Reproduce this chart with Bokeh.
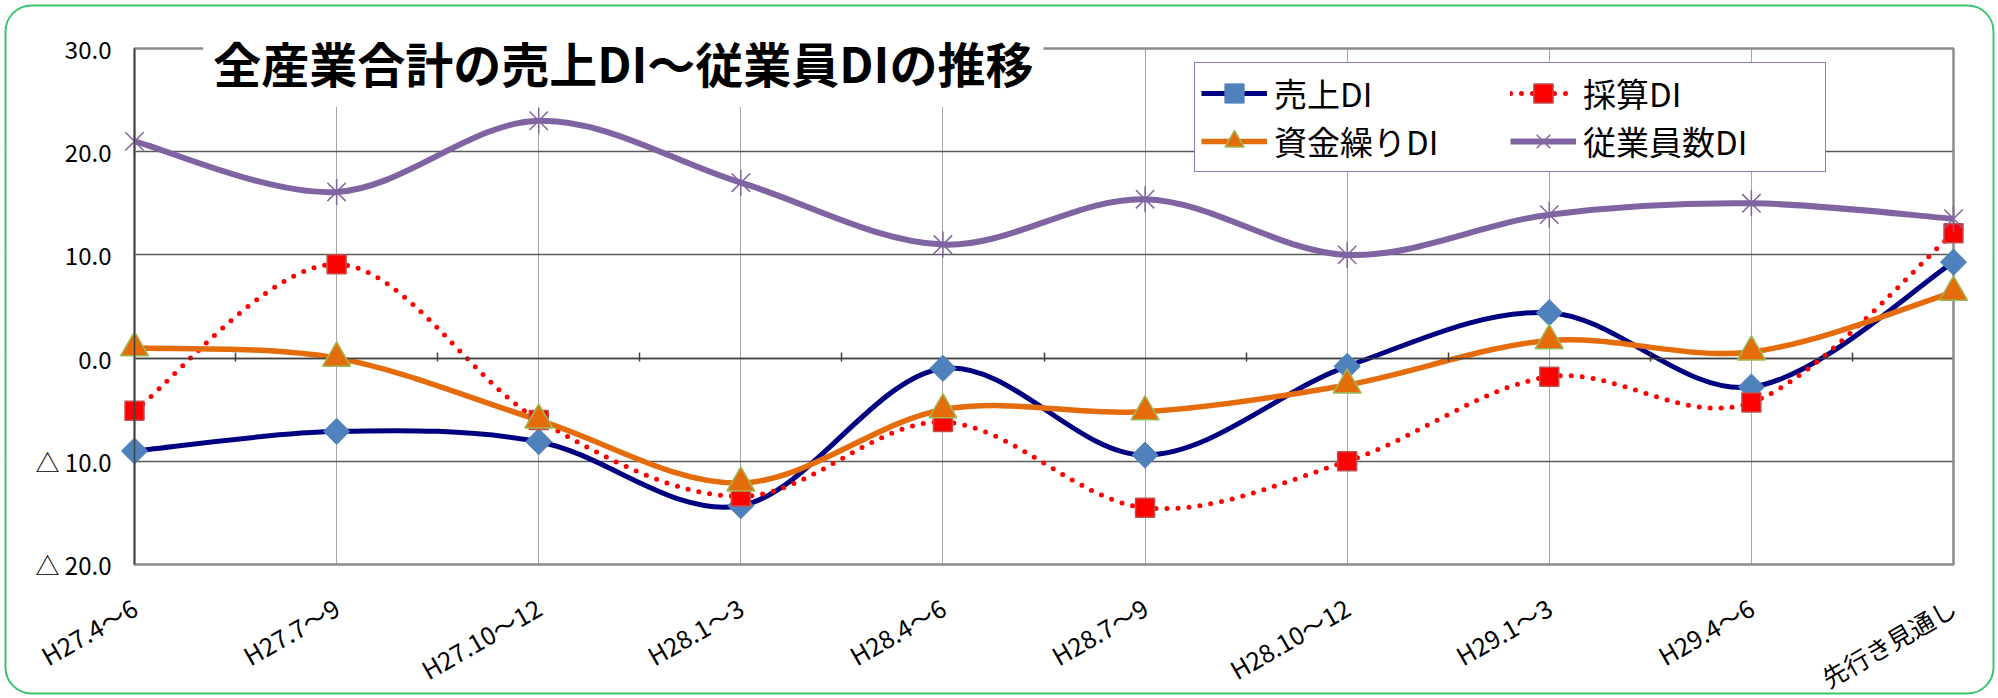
import math
import numpy as np
from bokeh.plotting import figure
from bokeh.models import (Range1d, FixedTicker, LinearAxis, Grid, Legend, LegendItem,
                          Label, ColumnDataSource, BoxAnnotation)
from bokeh.embed import file_html
from bokeh.resources import INLINE

# ---------------- data ----------------
categories = ["H27.4～6", "H27.7～9", "H27.10～12", "H28.1～3", "H28.4～6",
              "H28.7～9", "H28.10～12", "H29.1～3", "H29.4～6", "先行き見通し"]
uriage_di = [-9.0, -7.1, -8.1, -14.3, -1.0, -9.4, -0.8, 4.4, -2.8, 9.3]
saisan_di = [-5.1, 9.1, -6.0, -13.4, -6.2, -14.5, -10.0, -1.8, -4.3, 12.1]
shikinguri_di = [1.0, 0.0, -6.0, -12.1, -5.0, -5.2, -2.6, 1.7, 0.6, 6.4]
jugyoinsu_di = [21.0, 16.1, 23.0, 17.0, 11.0, 15.4, 10.0, 13.9, 15.0, 13.5]
y_ticks = [-20, -10, 0, 10, 20, 30]
y_tick_labels = ["△ 20.0", "△ 10.0", "0.0", "10.0", "20.0", "30.0"]
series_names = ["売上DI", "採算DI", "資金繰りDI", "従業員数DI"]
title_text = "全産業合計の売上DI～従業員DIの推移"

FONT = "Noto Sans CJK JP"
xs = list(range(len(categories)))

# ---------------- layout (pixels inside the figure) ----------------
W, H = 1998, 698
PLOT_L, PLOT_R, PLOT_T, PLOT_B = 134, 1953, 48, 564   # plot-area box
x_first, x_last = xs[0], xs[-1]
y_min, y_max = y_ticks[0], y_ticks[-1]
px_x = (PLOT_R - PLOT_L) / (x_last - x_first)
px_y = (PLOT_B - PLOT_T) / (y_max - y_min)
x_lo, x_hi = x_first - PLOT_L / px_x, x_last + (W - PLOT_R) / px_x
y_lo, y_hi = y_min - (H - PLOT_B) / px_y, y_max + PLOT_T / px_y


def smooth_source(vals):
    """Bezier segments through the data points (Excel-like smoothed line)."""
    xv = np.arange(len(vals), dtype=float)
    yv = np.asarray(vals, dtype=float)
    xp = np.concatenate([[xv[0]], xv, [xv[-1]]])
    yp = np.concatenate([[yv[0]], yv, [yv[-1]]])
    i = np.arange(len(vals) - 1)
    x0, y0 = xp[i + 1], yp[i + 1]
    x1, y1 = xp[i + 2], yp[i + 2]
    cx0 = x0 + (xp[i + 2] - xp[i]) / 6.0
    cy0 = y0 + (yp[i + 2] - yp[i]) / 6.0
    cx1 = x1 - (xp[i + 3] - xp[i + 1]) / 6.0
    cy1 = y1 - (yp[i + 3] - yp[i + 1]) / 6.0
    return ColumnDataSource(dict(x0=x0, y0=y0, x1=x1, y1=y1,
                                 cx0=cx0, cy0=cy0, cx1=cx1, cy1=cy1))


p = figure(width=W, height=H, x_range=Range1d(x_lo, x_hi), y_range=Range1d(y_lo, y_hi),
           output_backend="svg", toolbar_location=None,
           x_axis_location=None, y_axis_location=None,
           min_border_left=0, min_border_right=0, min_border_top=0, min_border_bottom=0)
p.background_fill_color = "white"
p.border_fill_color = "white"
p.outline_line_color = None

# grids
p.add_layout(Grid(dimension=0, ticker=FixedTicker(ticks=xs[1:-1]),
                  grid_line_color="#a6a6a6", grid_line_width=1))
p.add_layout(Grid(dimension=1, ticker=FixedTicker(ticks=y_ticks[1:-1]),
                  grid_line_color="#5a5a5a", grid_line_width=1.5))
# keep grid lines inside the plot-area box
pad_x, pad_y = 0.5, 5
for kw in (dict(left=x_lo - pad_x, right=x_first, bottom=y_lo - pad_y, top=y_hi + pad_y),
           dict(left=x_last, right=x_hi + pad_x, bottom=y_lo - pad_y, top=y_hi + pad_y),
           dict(left=x_lo - pad_x, right=x_hi + pad_x, bottom=y_lo - pad_y, top=y_min),
           dict(left=x_lo - pad_x, right=x_hi + pad_x, bottom=y_max, top=y_hi + pad_y)):
    p.add_layout(BoxAnnotation(fill_color="white", fill_alpha=1.0, line_color=None,
                               level="underlay", **kw))

# left value axis
yax = LinearAxis(ticker=FixedTicker(ticks=y_ticks), fixed_location=x_first,
                 bounds=(y_min, y_max),
                 major_label_overrides=dict(zip(y_ticks, y_tick_labels)),
                 axis_line_color="#404040", axis_line_width=1.5,
                 major_tick_out=0, major_tick_in=0, major_tick_line_color=None,
                 minor_tick_line_color=None, major_label_standoff=23,
                 major_label_text_font=FONT, major_label_text_font_size="24px",
                 major_label_text_color="black", level="overlay")
p.add_layout(yax, "left")

# bottom category labels
xax = LinearAxis(ticker=FixedTicker(ticks=xs), fixed_location=y_min,
                 major_label_overrides={i: c for i, c in enumerate(categories)},
                 major_label_orientation=math.radians(30),
                 axis_line_color=None, major_tick_line_color=None, minor_tick_line_color=None,
                 major_tick_out=0, major_tick_in=0,
                 major_label_standoff=40, major_label_text_font=FONT,
                 major_label_text_font_size="25px", major_label_text_color="black")
p.add_layout(xax, "below")

# category axis line crossing at zero (tick marks between categories)
mid_ticks = [i + 0.5 for i in xs[:-1]]
zax = LinearAxis(ticker=FixedTicker(ticks=mid_ticks), fixed_location=0,
                 bounds=(x_first, x_last),
                 major_label_overrides={t: "" for t in mid_ticks},
                 major_label_text_font_size="0px",
                 axis_line_color="#404040", axis_line_width=1.5,
                 major_tick_out=6, major_tick_in=3, major_tick_line_color="#404040",
                 major_tick_line_width=1.5, minor_tick_line_color=None)
p.add_layout(zax, "above")

# ---------------- series ----------------
legend_items = []
bz = dict(x0="x0", y0="y0", x1="x1", y1="y1", cx0="cx0", cy0="cy0", cx1="cx1", cy1="cy1")

# 売上DI
r = p.bezier(source=smooth_source(uriage_di), line_color="#000080", line_width=5, **bz)
m = p.scatter(xs, uriage_di, marker="square", angle=math.pi / 4, size=18.5,
              fill_color="#4F81BD", line_color="#4F81BD", level="overlay")
legend_items.append(LegendItem(label=series_names[0], renderers=[r, m]))

# 採算DI
r = p.bezier(source=smooth_source(saisan_di), line_color="#FF0000", line_width=5,
             line_dash="0 11", line_cap="round", **bz)
m = p.scatter(xs, saisan_di, marker="square", size=19,
              fill_color="#FF0000", line_color="#C0504D", line_width=1.5, level="overlay")
legend_items.append(LegendItem(label=series_names[1], renderers=[r, m]))

# 資金繰りDI
r = p.bezier(source=smooth_source(shikinguri_di), line_color="#E46C0A", line_width=5.5, **bz)
m = p.scatter(xs, shikinguri_di, marker="triangle", size=28,
              fill_color="#E46C0A", line_color="#9BBB59", line_width=1.5, level="overlay")
legend_items.append(LegendItem(label=series_names[2], renderers=[r, m]))

# 従業員数DI
r = p.bezier(source=smooth_source(jugyoinsu_di), line_color="#8064A2", line_width=6, **bz)
m = p.scatter(xs, jugyoinsu_di, marker="x", size=26, line_color="#8064A2",
              line_width=1.5, level="overlay")
m2 = p.scatter(xs, jugyoinsu_di, marker="dash", angle=math.pi / 2, size=26,
               line_color="#8064A2", line_width=1.5, level="overlay")
legend_items.append(LegendItem(label=series_names[3], renderers=[r, m]))

# plot-area border
p.add_layout(BoxAnnotation(left=x_first, right=x_last, bottom=y_min, top=y_max,
                           fill_color=None, line_color="#8c8c8c", line_alpha=1.0,
                           line_width=2.5))

legend = Legend(items=legend_items, location=(1194, H - 172), orientation="horizontal",
                ncols=2, margin=0, padding=6, spacing=0, glyph_width=66, glyph_height=48,
                label_height=48, label_width=236, label_standoff=7, label_text_font=FONT,
                label_text_font_size="33px", label_text_color="black",
                border_line_color="#000080", border_line_width=1.5,
                background_fill_color="white", background_fill_alpha=1.0)
p.add_layout(legend)

# title with white box
title = Label(x=0.34, y=28.69, text=title_text, text_font=FONT, text_font_size="48px",
              text_font_style="bold", text_color="black", text_align="left",
              text_baseline="middle", background_fill_color="white",
              background_fill_alpha=1.0, padding=10)
p.add_layout(title)

# rounded green frame around the whole chart
edge = 5
p.add_layout(BoxAnnotation(left=x_lo + edge / px_x, right=x_hi - edge / px_x,
                           bottom=y_lo + edge / px_y, top=y_hi - edge / px_y,
                           fill_color=None, line_color="#3cc46e", line_alpha=1.0,
                           line_width=2, border_radius=26, level="overlay"))

open("out.html", "w").write(file_html(p, INLINE))
